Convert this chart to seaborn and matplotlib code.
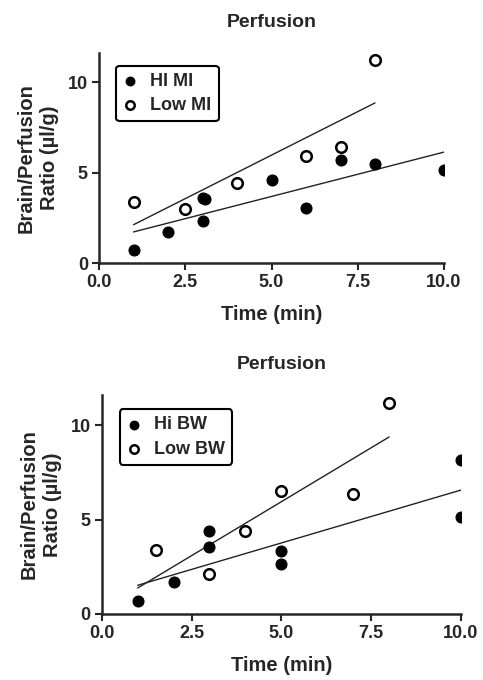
import numpy as np
import pandas as pd
import matplotlib
matplotlib.use("Agg")
import matplotlib.pyplot as plt
import seaborn as sns

sns.set_theme(style="ticks")
plt.rcParams['font.family'] = ['Liberation Sans', 'DejaVu Sans']
plt.rcParams['font.weight'] = 'bold'

# ---- data: top panel (MI) ----
hi_mi_x = [1, 2, 3, 3, 3.08, 5, 6, 7, 8, 10]
hi_mi_y = [0.73, 1.71, 2.35, 3.58, 3.56, 4.62, 3.03, 5.69, 5.5, 5.16]
low_mi_x = [1, 2.5, 4, 6, 7, 8]
low_mi_y = [3.39, 3.0, 4.44, 5.94, 6.4, 11.19]

# ---- data: bottom panel (BW) ----
hi_bw_x = [1, 2, 3, 3, 5, 5, 10, 10]
hi_bw_y = [0.70, 1.67, 4.37, 3.54, 3.35, 2.63, 8.14, 5.14]
low_bw_x = [1.5, 3, 4, 5, 7, 8]
low_bw_y = [3.39, 2.14, 4.42, 6.49, 6.37, 11.16]

titles = ["Perfusion", "Perfusion"]
hi_labels = ["HI MI", "Hi BW"]
low_labels = ["Low MI", "Low BW"]
xticks = [0.0, 2.5, 5.0, 7.5, 10.0]
xticklabels = ["0.0", "2.5", "5.0", "7.5", "10.0"]
yticks = [0, 5, 10]

W, H = 483, 680
fig = plt.figure(figsize=(W / 100, H / 100), dpi=100)
ax1 = fig.add_axes([99 / W, 1 - 263.3 / H, (444 - 99) / W, (263.3 - 53) / H])
ax2 = fig.add_axes([101.7 / W, 1 - 614 / H, (461 - 101.7) / W, (614 - 395) / H])

panels = [
    (ax1, hi_mi_x, hi_mi_y, low_mi_x, low_mi_y, 0),
    (ax2, hi_bw_x, hi_bw_y, low_bw_x, low_bw_y, 1),
]
legend_anchor = [(0.049, 0.94), (0.05, 0.935)]

for ax, hx, hy, lx, ly, i in panels:
    df = pd.concat([
        pd.DataFrame({"x": hx, "y": hy, "g": hi_labels[i]}),
        pd.DataFrame({"x": lx, "y": ly, "g": low_labels[i]}),
    ])
    sns.scatterplot(data=df[df.g == hi_labels[i]], x="x", y="y", ax=ax,
                    s=62, color="black", edgecolor="black", linewidth=0.8,
                    label=hi_labels[i], zorder=3)
    sns.scatterplot(data=df[df.g == low_labels[i]], x="x", y="y", ax=ax,
                    s=58, facecolor="white", edgecolor="black", linewidth=1.8,
                    label=low_labels[i], zorder=3)
    xmin = min(min(hx), min(lx))
    for gx, gy in [(hx, hy), (lx, ly)]:
        k, b = np.polyfit(gx, gy, 1)
        xs = np.array([xmin, max(gx)])
        ax.plot(xs, k * xs + b, color="#222222", lw=1.0, zorder=2)

    ax.set_xlim(0, 10)
    ax.set_ylim(0, 11.6)
    ax.set_xticks(xticks)
    ax.set_xticklabels(xticklabels)
    ax.set_yticks(yticks)
    sns.despine(ax=ax)
    ax.spines['left'].set_linewidth(1.8)
    ax.spines['bottom'].set_linewidth(1.8)
    ax.tick_params(direction="out", length=5, width=1.5, labelsize=13, pad=3)
    for t in ax.get_xticklabels() + ax.get_yticklabels():
        t.set_fontweight('bold')
    ax.set_xlabel("Time (min)", fontsize=14.5, fontweight="bold", labelpad=10)
    ax.set_ylabel("Brain/Perfusion\nRatio (µl/g)", fontsize=14.5, fontweight="bold",
                  labelpad=6, linespacing=1.3)
    ax.set_title(titles[i], fontsize=14, fontweight="bold", pad=19)
    leg = ax.legend(loc="upper left", bbox_to_anchor=legend_anchor[i], borderaxespad=0,
                    frameon=True, fancybox=True, edgecolor="black",
                    prop={"weight": "bold", "size": 13},
                    handletextpad=0.7, borderpad=0.4, labelspacing=0.4,
                    markerscale=0.8, handlelength=0.8)
    leg.get_frame().set_linewidth(1.5)
    leg.get_frame().set_alpha(1)

fig.savefig("out.png", dpi=100)
